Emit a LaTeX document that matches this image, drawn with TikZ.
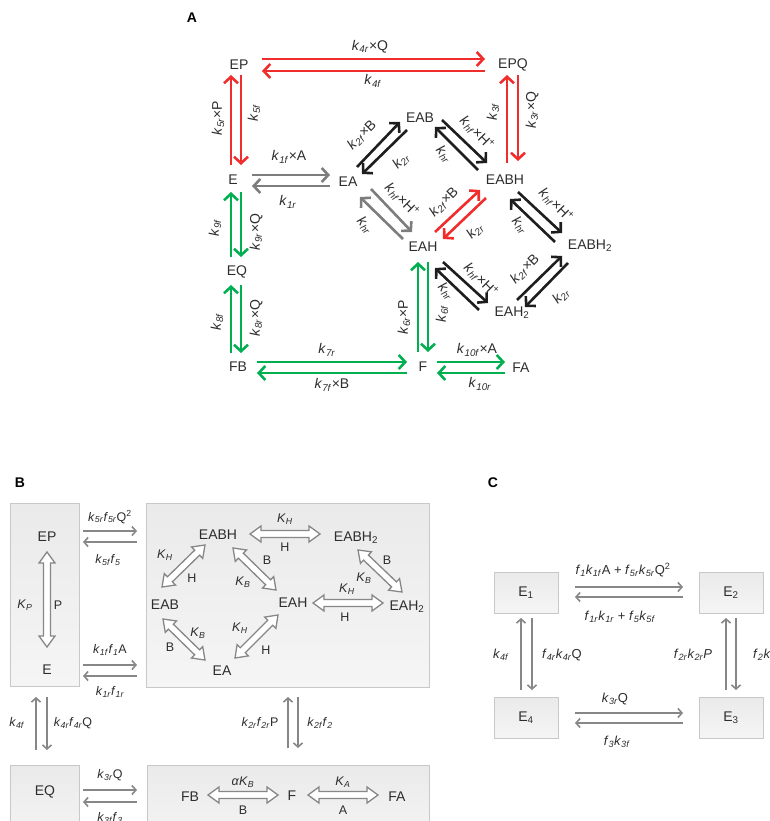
\documentclass[tikz,border=0pt]{standalone}
\usepackage{fontspec}
\setmainfont{Liberation Sans}
\usetikzlibrary{arrows.meta}
\definecolor{cred}{RGB}{240,45,45}
\definecolor{cgreen}{RGB}{0,176,80}
\definecolor{cdark}{RGB}{30,30,30}
\definecolor{cgray}{RGB}{125,125,125}
\definecolor{ctxt}{RGB}{45,45,45}
\definecolor{barr}{RGB}{135,135,135}
\definecolor{boxline}{RGB}{200,200,200}
\definecolor{boxtop}{RGB}{234,234,234}
\definecolor{boxbot}{RGB}{245,245,245}
\newcommand\kr[1]{\textit{k}\textsubscript{\textit{#1}}}
\newcommand\fr[1]{\textit{f}\textsubscript{\textit{#1}}}
\newcommand\Kc[1]{\textit{K}\textsubscript{\textit{#1}}}
\newcommand\Hp{H\textsuperscript{+}}
\newcommand\dblarrow[4]{%
  \pgfmathsetmacro\dAx{#3-(#1)}%
  \pgfmathsetmacro\dAy{#4-(#2)}%
  \pgfmathsetmacro\dAang{atan2(0-(\dAy),\dAx)}%
  \pgfmathsetmacro\dAlen{veclen(\dAx,\dAy)}%
  \begin{scope}[shift={(#1,#2)},rotate=\dAang]
    \draw[dbl] (0,0) -- (11,8) -- (11,3.5) -- (\dAlen-11,3.5) -- (\dAlen-11,8) -- (\dAlen,0)
      -- (\dAlen-11,-8) -- (\dAlen-11,-3.5) -- (11,-3.5) -- (11,-8) -- cycle;
  \end{scope}}
\tikzset{
  nd/.style={inner sep=0pt, font=\fontsize{14}{16}\selectfont, text=ctxt},
  lbl/.style={inner sep=0pt, font=\fontsize{14}{16}\selectfont, text=ctxt},
  blbl/.style={inner sep=0pt, font=\fontsize{12.5}{14}\selectfont, text=ctxt},
  clbl/.style={inner sep=0pt, font=\fontsize{13}{15}\selectfont, text=ctxt},
  panel/.style={inner sep=0pt, font=\fontsize{14}{16}\selectfont\bfseries, text=black},
  ar/.style={line width=2.6pt, -{Straight Barb[length=6.5pt,width=14pt]}},
  ared/.style={ar, draw=cred},
  agreen/.style={ar, draw=cgreen},
  adark/.style={ar, draw=cdark},
  agray/.style={ar, draw=cgray},
  gar/.style={line width=1.6pt, draw=barr, -{Straight Barb[length=4pt,width=9pt]}},
  dbl/.style={draw=barr, fill=white, line width=1.3pt, line join=miter},
  bbox/.style={draw=boxline, line width=0.8pt, top color=boxtop, bottom color=boxbot, inner sep=0pt},
}
\begin{document}
\begin{tikzpicture}[x=1pt,y=-1pt]
\useasboundingbox (0,0) rectangle (770,821);
% ================= Panel A =================
\node[panel] (LA) at (192,18) {A};
\node[nd] (EP) at (239,65) {EP};
\node[nd] (EPQ) at (513,65) {EPQ};
\node[nd] (E) at (233,180) {E};
\node[nd] (EA) at (348,182) {EA};
\node[nd] (EAB) at (420,118) {EAB};
\node[nd] (EABH) at (505,180) {EABH};
\node[nd] (EAH) at (423,247) {EAH};
\node[nd] (EABHt) at (590,246) {EABH\textsubscript{2}};
\node[nd] (EAHt) at (512,313) {EAH\textsubscript{2}};
\node[nd] (EQ) at (237,272) {EQ};
\node[nd] (FB) at (238,367) {FB};
\node[nd] (F) at (423,367) {F};
\node[nd] (FA) at (521,368) {FA};
% red
\draw[ared] (262,59) -- (485,59);
\draw[ared] (485,71) -- (262,71);
\draw[ared] (231,165) -- (231,75);
\draw[ared] (241,75) -- (241,165);
\draw[ared] (507,163) -- (507,75);
\draw[ared] (518,75) -- (518,161);
\draw[ared] (435,232) -- (480,190);
\draw[ared] (486,198) -- (443,239);
% gray
\draw[agray] (252,175) -- (330,175);
\draw[agray] (330,186) -- (252,186);
\draw[agray] (371,189) -- (412,232);
\draw[agray] (403,239) -- (360,197);
% dark
\draw[adark] (357,167) -- (400,122);
\draw[adark] (407,130) -- (362,174);
\draw[adark] (442,120) -- (487,163);
\draw[adark] (478,170) -- (435,127);
\draw[adark] (518,192) -- (562,233);
\draw[adark] (555,242) -- (510,199);
\draw[adark] (443,262) -- (488,303);
\draw[adark] (479,310) -- (435,268);
\draw[adark] (517,300) -- (562,256);
\draw[adark] (568,263) -- (525,307);
% green
\draw[agreen] (231,257) -- (231,192);
\draw[agreen] (241,192) -- (241,257);
\draw[agreen] (231,353) -- (231,285);
\draw[agreen] (241,285) -- (241,353);
\draw[agreen] (257,362) -- (407,362);
\draw[agreen] (407,373) -- (257,373);
\draw[agreen] (418,352) -- (418,262);
\draw[agreen] (428,262) -- (428,352);
\draw[agreen] (437,362) -- (505,362);
\draw[agreen] (505,373) -- (437,373);
% labels A
\node[lbl] (l1) at (370,47) {\kr{4r}×Q};
\node[lbl] (l2) at (373,81) {\kr{4f}};
\node[lbl,rotate=90] (l3) at (218,118) {\kr{5r}×P};
\node[lbl,rotate=90] (l4) at (254,113) {\kr{5f}};
\node[lbl] (l5) at (289,157) {\kr{1f}×A};
\node[lbl] (l6) at (288,202) {\kr{1r}};
\node[lbl,rotate=45] (l7) at (362,135) {\kr{2f}×B};
\node[lbl,rotate=45] (l8) at (401,161) {\kr{2r}};
\node[lbl,rotate=-45] (l9) at (477,133) {\kr{hf}×\Hp};
\node[lbl,rotate=-50] (l10) at (444,154) {\kr{hr}};
\node[lbl,rotate=90] (l11) at (493,112) {\kr{3f}};
\node[lbl,rotate=90] (l12) at (532,110) {\kr{3r}×Q};
\node[lbl,rotate=-45] (l13) at (402,200) {\kr{hf}×\Hp};
\node[lbl,rotate=-50] (l14) at (365,225) {\kr{hr}};
\node[lbl,rotate=45] (l15) at (444,202) {\kr{2f}×B};
\node[lbl,rotate=45] (l16) at (475,231) {\kr{2r}};
\node[lbl,rotate=-45] (l17) at (556,205) {\kr{hf}×\Hp};
\node[lbl,rotate=-50] (l18) at (520,225) {\kr{hr}};
\node[lbl,rotate=90] (l19) at (215,228) {\kr{9f}};
\node[lbl,rotate=90] (l20) at (256,232) {\kr{9r}×Q};
\node[lbl,rotate=-45] (l21) at (481,280) {\kr{hf}×\Hp};
\node[lbl,rotate=-50] (l22) at (446,291) {\kr{hr}};
\node[lbl,rotate=45] (l23) at (525,269) {\kr{2f}×B};
\node[lbl,rotate=45] (l24) at (561,296) {\kr{2r}};
\node[lbl,rotate=90] (l25) at (217,322) {\kr{8f}};
\node[lbl,rotate=90] (l26) at (256,318) {\kr{8r}×Q};
\node[lbl,rotate=90] (l27) at (404,317) {\kr{6r}×P};
\node[lbl,rotate=90] (l28) at (442,314) {\kr{6f}};
\node[lbl] (l29) at (327,350) {\kr{7r}};
\node[lbl] (l30) at (332,385) {\kr{7f}×B};
\node[lbl] (l31) at (477,350) {\kr{10f}×A};
\node[lbl] (l32) at (480,384) {\kr{10r}};
% ================= Panel B =================
\node[panel] (LB) at (20,483) {B};
\node[bbox, minimum width=69, minimum height=183] (BL) at (44.5,594.5) {};
\node[bbox, minimum width=283, minimum height=184] (BBig) at (287.5,595) {};
\node[bbox, minimum width=69, minimum height=80] (BEQ) at (44.5,805) {};
\node[bbox, minimum width=282, minimum height=80] (BF) at (288,805) {};
\node[nd] (bEP) at (47,537) {EP};
\node[nd] (bE) at (47,670) {E};
\node[nd] (bEABH) at (218,535) {EABH};
\node[nd] (bEABHt) at (356,538) {EABH\textsubscript{2}};
\node[nd] (bEAB) at (165,605) {EAB};
\node[nd] (bEAH) at (293,603) {EAH};
\node[nd] (bEAHt) at (407,607) {EAH\textsubscript{2}};
\node[nd] (bEA) at (222,671) {EA};
\node[nd] (bEQ) at (45,792) {EQ};
\node[nd] (bFB) at (190,797) {FB};
\node[nd] (bF) at (292,796) {F};
\node[nd] (bFA) at (397,797) {FA};
% double arrows
\dblarrow{47}{552}{47}{647}
\dblarrow{250}{534}{320}{534}
\dblarrow{162}{587}{205}{545}
\dblarrow{233}{548}{276}{590}
\dblarrow{358}{550}{402}{592}
\dblarrow{313}{603}{383}{603}
\dblarrow{163}{619}{205}{660}
\dblarrow{235}{658}{278}{615}
\dblarrow{208}{795}{278}{795}
\dblarrow{308}{795}{378}{795}
% labels of double arrows
\node[blbl] (bl1) at (25,605) {\Kc{P}};
\node[blbl] (bl2) at (58,605) {P};
\node[blbl] (bl3) at (285,519) {\Kc{H}};
\node[blbl] (bl4) at (285,547) {H};
\node[blbl] (bl5) at (165,555) {\Kc{H}};
\node[blbl] (bl6) at (192,578) {H};
\node[blbl] (bl7) at (267,560) {B};
\node[blbl] (bl8) at (243,582) {\Kc{B}};
\node[blbl] (bl9) at (387,560) {B};
\node[blbl] (bl10) at (364,578) {\Kc{B}};
\node[blbl] (bl11) at (347,589) {\Kc{H}};
\node[blbl] (bl12) at (345,617) {H};
\node[blbl] (bl13) at (198,633) {\Kc{B}};
\node[blbl] (bl14) at (170,647) {B};
\node[blbl] (bl15) at (240,628) {\Kc{H}};
\node[blbl] (bl16) at (266,650) {H};
\node[blbl] (bl17) at (243,782) {\textit{α}\Kc{B}};
\node[blbl] (bl18) at (243,810) {B};
\node[blbl] (bl19) at (343,782) {\Kc{A}};
\node[blbl] (bl20) at (343,810) {A};
% gray arrows B
\draw[gar] (83,531) -- (137,531);
\draw[gar] (137,542) -- (83,542);
\draw[gar] (83,665) -- (137,665);
\draw[gar] (137,676) -- (83,676);
\draw[gar] (36,750) -- (36,697);
\draw[gar] (47,697) -- (47,750);
\draw[gar] (83,790) -- (137,790);
\draw[gar] (137,802) -- (83,802);
\draw[gar] (288,748) -- (288,697);
\draw[gar] (298,697) -- (298,748);
\node[blbl] (bk1) at (110,517) {\kr{5r}\fr{5r}Q\textsuperscript{2}};
\node[blbl] (bk2) at (108,560) {\kr{5f}\fr{5}};
\node[blbl] (bk3) at (110,650) {\kr{1f}\fr{1}A};
\node[blbl] (bk4) at (110,692) {\kr{1r}\fr{1r}};
\node[blbl] (bk5) at (17,723) {\kr{4f}};
\node[blbl] (bk6) at (73,723) {\kr{4r}\fr{4r}Q};
\node[blbl] (bk7) at (110,775) {\kr{3r}Q};
\node[blbl] (bk8) at (110,818) {\kr{3f}\fr{3}};
\node[blbl] (bk9) at (260,723) {\kr{2r}\fr{2r}P};
\node[blbl] (bk10) at (320,723) {\kr{2f}\fr{2}};
% ================= Panel C =================
\node[panel] (LC) at (493,483) {C};
\node[bbox, minimum width=64, minimum height=41, font=\fontsize{14}{16}\selectfont, text=ctxt] (E1) at (526,592.5) {E\textsubscript{1}};
\node[bbox, minimum width=64, minimum height=41, font=\fontsize{14}{16}\selectfont, text=ctxt] (E2) at (731,592.5) {E\textsubscript{2}};
\node[bbox, minimum width=64, minimum height=41, font=\fontsize{14}{16}\selectfont, text=ctxt] (E4) at (526,717.5) {E\textsubscript{4}};
\node[bbox, minimum width=64, minimum height=41, font=\fontsize{14}{16}\selectfont, text=ctxt] (E3) at (731,717.5) {E\textsubscript{3}};
\draw[gar] (575,587) -- (683,587);
\draw[gar] (683,597) -- (575,597);
\draw[gar] (521,690) -- (521,618);
\draw[gar] (532,618) -- (532,690);
\draw[gar] (575,713) -- (683,713);
\draw[gar] (683,723) -- (575,723);
\draw[gar] (726,690) -- (726,618);
\draw[gar] (736,618) -- (736,690);
\node[clbl] (c1) at (623,570) {\fr{1}\kr{1f}A + \fr{5r}\kr{5r}Q\textsuperscript{2}};
\node[clbl] (c2) at (620,617) {\fr{1r}\kr{1r} + \fr{5}\kr{5f}};
\node[clbl] (c3) at (501,655) {\kr{4f}};
\node[clbl] (c4) at (562,655) {\fr{4r}\kr{4r}Q};
\node[clbl] (c5) at (615,699) {\kr{3r}Q};
\node[clbl] (c6) at (617,742) {\fr{3}\kr{3f}};
\node[clbl] (c7) at (693,655) {\fr{2r}\kr{2r}\textit{P}};
\node[clbl, anchor=west] (c8) at (753,655) {\fr{2}\kr{2f}};
\end{tikzpicture}
\end{document}
